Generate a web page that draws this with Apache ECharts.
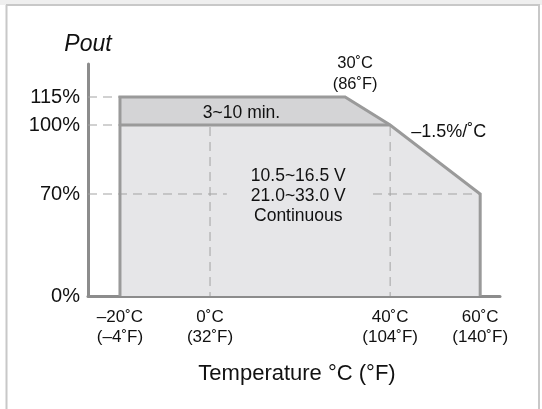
<!DOCTYPE html>
<html><head><meta charset="utf-8">
<script src="https://cdn.jsdelivr.net/npm/echarts@6/dist/echarts.min.js"></script>
<style>html,body{margin:0;padding:0;background:#fff}#c{width:542px;height:409px}</style>
</head><body><div id="c"></div>
<script>
// ---- data ----
const tempTicksC = [-20, 0, 40, 60];
const tempTicksF = [-4, 32, 104, 140];
const pctTicks = [0, 70, 100, 115];
const curveTemp = [-20, 30, 40, 60];      // derating curve, °C
const curvePct = [115, 115, 100, 70];     // derating curve, % Pout
const continuousPct = 100;
const breakTempC = 30, breakTempF = 86;
const slopeText = '–1.5%/˚C';
const peakText = '3~10 min.';
const continuousText = ['10.5~16.5 V', '21.0~33.0 V', 'Continuous'];

// printed % scale is schematic (non-uniform); spacing of its ticks on the axis
const yScaleStops = [0, 102, 171, 199];
function yMap(p) {
  for (let i = 1; i < pctTicks.length; i++) {
    if (p <= pctTicks[i] || i === pctTicks.length - 1) {
      const a = pctTicks[i - 1], b = pctTicks[i];
      return yScaleStops[i - 1] + (p - a) / (b - a) * (yScaleStops[i] - yScaleStops[i - 1]);
    }
  }
}
const FONT = '"Liberation Sans", Arial, Helvetica, sans-serif';
const C_LOW = '#e6e6e8', C_BAND = '#d4d4d6', C_LINE = '#9a9a9a', C_AXIS = '#8c8c8c', C_DASH = '#a3a3a3';

const chart = echarts.init(document.getElementById('c'), null, {renderer: 'canvas'});
const dash = {stroke: C_DASH, lineWidth: 1, lineDash: [9, 6]};

chart.setOption({
  animation: false,
  backgroundColor: '#fff',
  grid: {left: 88, right: 42, top: 64, bottom: 113, containLabel: false, outerBoundsMode: 'none'},
  graphic: [
    {type: 'rect', z: -10, shape: {x: 0, y: 0, width: 542, height: 5}, style: {fill: '#efefef'}},
    {type: 'line', z: -10, shape: {x1: 6, y1: 5, x2: 540, y2: 5}, style: {stroke: '#c8c8c8', lineWidth: 2}},
    {type: 'line', z: -10, shape: {x1: 6.5, y1: 5, x2: 6.5, y2: 409}, style: {stroke: '#c8c8c8', lineWidth: 2}},
    {type: 'line', z: -10, shape: {x1: 539, y1: 5, x2: 539, y2: 409}, style: {stroke: '#c8c8c8', lineWidth: 2}}
  ],
  xAxis: {
    type: 'value', min: -27.1, max: 64.4,
    axisLine: {show: true, onZero: false, lineStyle: {color: C_AXIS, width: 3}},
    axisTick: {show: false}, splitLine: {show: false},
    axisLabel: {
      customValues: tempTicksC, margin: 11, color: '#111', fontSize: 17, fontFamily: FONT, lineHeight: 20,
      formatter: v => {
        const i = tempTicksC.indexOf(v);
        const f = tempTicksF[i];
        const fmt = n => (n < 0 ? '–' + Math.abs(n) : '' + n);
        return fmt(v) + '˚C\n(' + fmt(f) + '˚F)';
      }
    },
    name: 'Temperature °C (°F)', nameLocation: 'middle', nameGap: 67, nameMoveOverlap: false,
    nameTextStyle: {color: '#111', fontSize: 22, fontFamily: FONT, padding: [0, 0, 0, 6]}
  },
  yAxis: {
    type: 'value', min: 0, max: 232,
    axisLine: {show: true, onZero: false, lineStyle: {color: C_AXIS, width: 3}},
    axisTick: {show: false}, splitLine: {show: false},
    axisLabel: {
      customValues: pctTicks.map(yMap), margin: 8, color: '#111', fontSize: 20, fontFamily: FONT,
      formatter: v => {
        let best = 0;
        pctTicks.forEach((p, i) => { if (Math.abs(yMap(p) - v) < Math.abs(yMap(pctTicks[best]) - v)) best = i; });
        return pctTicks[best] + '%';
      }
    },
    name: 'Pout', nameLocation: 'end', nameGap: 8, nameMoveOverlap: false,
    nameTextStyle: {color: '#111', fontSize: 23, fontStyle: 'italic', fontFamily: FONT, align: 'center'}
  },
  series: [{
    type: 'custom', coordinateSystem: 'cartesian2d', silent: true, clip: false,
    data: [[0, 0]],
    renderItem: function (params, api) {
      const P = (t, p) => api.coord([t, yMap(p)]);
      const left = params.coordSys.x;
      const t0 = curveTemp[0], tN = curveTemp[curveTemp.length - 1];
      const curve = curveTemp.map((t, i) => [t, curvePct[i]]);
      const lower = [[t0, 0], [t0, continuousPct]]
        .concat(curve.filter(d => d[1] <= continuousPct)).concat([[tN, 0]]);
      const band = [[t0, continuousPct]].concat(curve.filter(d => d[1] >= continuousPct));
      const outline = [[t0, 0]].concat(curve).concat([[tN, 0]]);
      const contEnd = curve.find(d => d[1] === continuousPct);
      const ch = [];
      ch.push({type: 'polygon', shape: {points: lower.map(d => P(d[0], d[1]))}, style: {fill: C_LOW}});
      ch.push({type: 'polygon', shape: {points: band.map(d => P(d[0], d[1]))}, style: {fill: C_BAND}});
      // dashed guides
      const hLevels = [curvePct[0], continuousPct, curvePct[curvePct.length - 1]];
      hLevels.forEach((p, k) => {
        const end = k < 2 ? P(t0, p) : P(tN, p);
        ch.push({type: 'line', shape: {x1: left, y1: end[1], x2: end[0], y2: end[1]}, style: dash});
      });
      tempTicksC.filter(t => t > t0 && t < tN).forEach(t => {
        const a = P(t, continuousPct), b = P(t, 0);
        ch.push({type: 'line', shape: {x1: a[0], y1: a[1] + 2, x2: b[0], y2: b[1]}, style: dash});
      });
      // continuous text block
      const tc = P(19.6, curvePct[curvePct.length - 1]);
      ch.push({type: 'text', style: {
        text: continuousText.join('\n'), x: tc[0], y: tc[1] + 2, align: 'center', verticalAlign: 'middle',
        font: '17.5px ' + FONT, lineHeight: 20, fill: '#111', backgroundColor: C_LOW, padding: [0, 24]
      }});
      // outline
      ch.push({type: 'polyline', shape: {points: outline.map(d => P(d[0], d[1]))},
        style: {stroke: C_LINE, lineWidth: 3, fill: null, lineJoin: 'miter'}});
      ch.push({type: 'line', shape: (() => { const a = P(t0, continuousPct), b = P(contEnd[0], continuousPct);
        return {x1: a[0], y1: a[1], x2: b[0], y2: b[1]}; })(), style: {stroke: C_LINE, lineWidth: 3}});
      // annotations
      const pk = P(7, (curvePct[0] + continuousPct) / 2);
      ch.push({type: 'text', style: {text: peakText, x: pk[0], y: pk[1] + 2, align: 'center', verticalAlign: 'middle',
        font: '17.5px ' + FONT, fill: '#111'}});
      const br = P(breakTempC, curvePct[0]);
      ch.push({type: 'text', style: {text: breakTempC + '˚C\n(' + breakTempF + '˚F)', x: br[0] + 10, y: br[1] - 2,
        align: 'center', verticalAlign: 'bottom', font: '16.5px ' + FONT, lineHeight: 21, fill: '#111'}});
      const sl = P(contEnd[0], continuousPct);
      ch.push({type: 'text', style: {text: slopeText, x: sl[0] + 21, y: sl[1] + 7, align: 'left', verticalAlign: 'middle',
        font: '18px ' + FONT, fill: '#111'}});
      return {type: 'group', children: ch};
    }
  }]
});
</script>
</body></html>
